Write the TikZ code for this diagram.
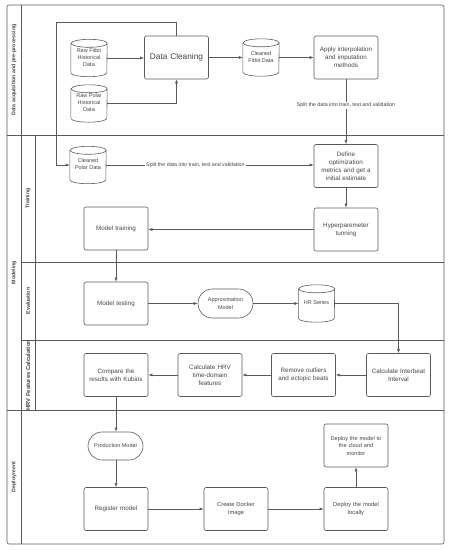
\documentclass[tikz,border=0pt]{standalone}
\usepackage{fontspec}
\setmainfont{Liberation Sans}
\usetikzlibrary{shapes.misc,arrows.meta}
\definecolor{ln}{HTML}{5A5A5A}
\definecolor{tx}{HTML}{444444}
\tikzset{
  lane/.style={draw=ln,line width=0.6pt},
  lanelab/.style={rotate=90,font=\fontsize{5.3}{6}\selectfont\bfseries,text=tx},
  box/.style={draw=ln,line width=0.6pt,rounded corners=2pt,minimum width=64pt,minimum height=43pt,align=center,text width=62pt,font=\fontsize{6.3}{8}\selectfont,text=tx,inner sep=1pt},
  stad/.style={draw=ln,line width=0.6pt,rounded rectangle,minimum width=57pt,minimum height=29pt,align=center,font=\fontsize{5.5}{7.5}\selectfont,text=tx,inner sep=1pt},
  cylbox/.style={minimum width=36pt,minimum height=37pt,align=center,font=\fontsize{5.5}{7}\selectfont,text=tx,inner sep=0pt},
  conn/.style={draw=ln,line width=0.5pt,-{Latex[length=4pt,width=3pt]}},
  elab/.style={fill=white,font=\fontsize{5.3}{6}\selectfont,text=tx,inner sep=1pt}
}
\newcommand\mycyl[4]{%
  \node[cylbox] (#1) at (#2,#3) {\raisebox{-3.2pt}{\begin{tabular}{@{}c@{}}#4\end{tabular}}};
  \draw[draw=ln,line width=0.6pt] ([yshift=-4pt]#1.north west) -- ([yshift=4pt]#1.south west)
    arc[start angle=180,end angle=360,x radius=18pt,y radius=4pt]
    -- ([yshift=-4pt]#1.north east)
    arc[start angle=0,end angle=360,x radius=18pt,y radius=4pt];
}
\begin{document}
\begin{tikzpicture}[x=1pt,y=-1pt]
\useasboundingbox (0,0) rectangle (450,550);
% lanes
\draw[lane,rounded corners=2pt] (7,5) rectangle (444,544);
\draw[lane] (21,5) -- (21,544);
\draw[lane] (35,135) -- (35,410);
\draw[lane] (7,135) -- (444,135);
\draw[lane] (21,262) -- (444,262);
\draw[lane] (21,340) -- (444,340);
\draw[lane] (7,410) -- (444,410);
\node[lanelab] (l1) at (14,70) {Data acquisition and pre-processing};
\node[lanelab] (l2) at (14,272.5) {Modeling};
\node[lanelab] (l3) at (28,198.5) {Training};
\node[lanelab] (l4) at (28,301) {Evaluation};
\begin{scope}
\clip (21,340) rectangle (35,410);
\node[lanelab,font=\fontsize{5.8}{6}\selectfont\bfseries] (l5) at (28,375) {HRV Features Calculation};
\end{scope}
\node[lanelab] (l6) at (14,477) {Deployment};
% nodes
\mycyl{rawfit}{89}{58}{Raw Fitbit\\Historical\\Data}
\mycyl{rawpol}{89}{103.5}{Raw Polar\\Historical\\Data}
\node[box,font=\fontsize{8.3}{10}\selectfont] (clean) at (176.5,57.5) {Data Cleaning};
\mycyl{cfit}{261}{57.5}{Cleaned\\Fitbit Data}
\node[box] (apply) at (346,57.5) {Apply interpolation\\and imputation\\methods};
\mycyl{cpol}{88}{165}{Cleaned\\Polar Data}
\node[box] (define) at (346,166) {Define\\optimization\\metrics and get a\\initial estimate};
\node[box] (hyper) at (346,229.5) {Hyperparemeter\\tunning};
\node[box] (train) at (116,228.5) {Model training};
\node[box] (test) at (116,303.5) {Model testing};
\node[stad] (approx) at (225.5,303.5) {Approximation\\Model};
\mycyl{hr}{316.5}{303.5}{HR Series}
\node[box] (inter) at (398.5,375) {Calculate Interbeat\\Interval};
\node[box] (remove) at (303.5,375) {Remove outliers\\and ectopic beats};
\node[box] (hrv) at (210,375) {Calculate HRV\\time-domain\\features};
\node[box] (compare) at (116,375) {Compare the\\results with Kubios};
\node[stad,minimum height=28pt] (prod) at (115.5,446) {Production Model};
\node[box] (register) at (116,509) {Register model};
\node[box,font=\fontsize{5.8}{7.5}\selectfont] (docker) at (236,509) {Create Docker\\Image};
\node[box,font=\fontsize{5.8}{7.5}\selectfont] (local) at (356,509) {Deploy the model\\locally};
\node[box,font=\fontsize{5.6}{7.5}\selectfont] (cloud) at (356,445.5) {Deploy the model to\\the cloud and\\monitor};
\coordinate (loop) at (56,22);
% connectors
\draw[conn] (rawfit.east) -- (rawfit.east -| clean.west);
\draw[conn] (rawpol.east) -| (clean.south);
\draw[conn] (clean.north) |- (loop) |- (cpol.west);
\draw[conn] (clean.east) -- (clean.east -| cfit.west);
\draw[conn] (cfit.east) -- (cfit.east -| apply.west);
\draw[conn] (apply.south) -- node[elab,pos=0.4] {Split the data into train, test and validation} (define.north);
\draw[conn] (cpol.east) -- node[elab,pos=0.43] {Split the data into train, test and validation} (cpol.east -| define.west);
\draw[conn] (define.south) -- (hyper.north);
\draw[conn] (hyper.west) -- (hyper.west -| train.east);
\draw[conn] (train.south) -- (test.north);
\draw[conn] (test.east) -- (approx.west);
\draw[conn] (approx.east) -- (hr.west);
\draw[conn] (hr.east) -| (inter.north);
\draw[conn] (inter.west) -- (remove.east);
\draw[conn] (remove.west) -- (hrv.east);
\draw[conn] (hrv.west) -- (compare.east);
\draw[conn] (compare.south) -- (prod.north -| compare.south);
\draw[conn] (prod.south -| register.north) -- (register.north);
\draw[conn] (register.east) -- (docker.west);
\draw[conn] (docker.east) -- (local.west);
\draw[conn] (local.north) -- (cloud.south);
\end{tikzpicture}
\end{document}
